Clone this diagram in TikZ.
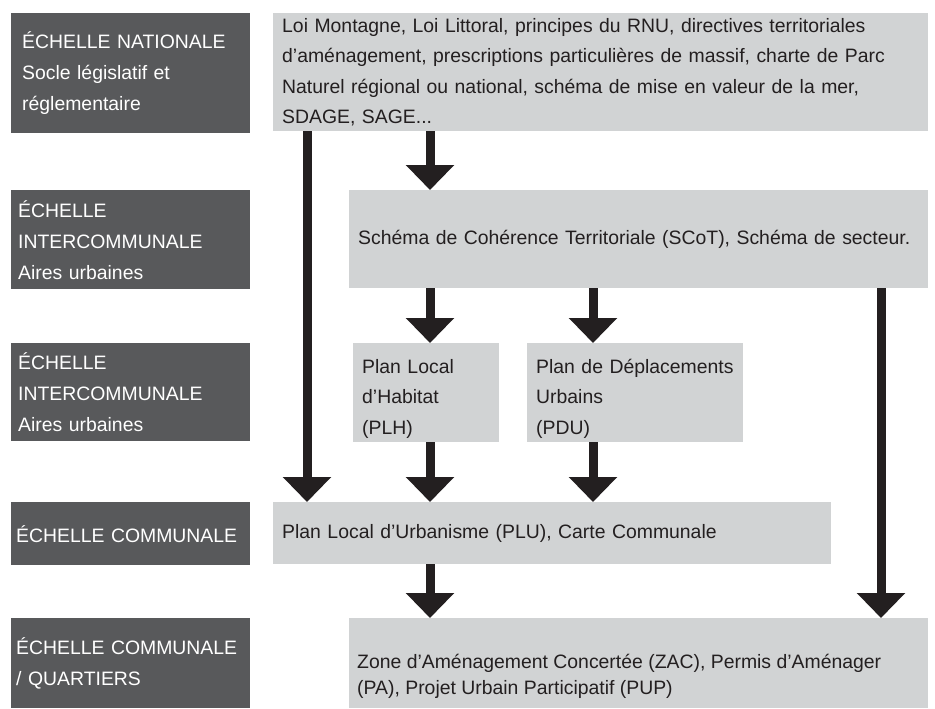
\documentclass[tikz,border=0pt]{standalone}
\usepackage{fontspec}
\setmainfont{Liberation Sans}
\usetikzlibrary{arrows.meta}
\definecolor{Tier}{HTML}{58595B}
\definecolor{Doc}{HTML}{D1D3D4}
\definecolor{Ink}{HTML}{231F20}
\tikzset{
  tier/.style={anchor=north west,fill=Tier,text=white,inner xsep=7pt,inner ysep=0pt,text width=225pt,align=left,font=\fontsize{19.4}{31}\selectfont},
  docbox/.style={anchor=north west,fill=Doc,text=Ink,inner xsep=9pt,inner ysep=0pt,align=left,font=\fontsize{19.4}{30.5}\selectfont},
  doctext/.style={text=Ink,inner sep=0pt,align=left,font=\fontsize{19.4}{26}\selectfont},
  flowarrow/.style={-{Triangle[width=47pt,length=25pt]},line width=9pt,draw=Ink}
}
\begin{document}
\begin{tikzpicture}[x=1pt,y=-1pt]
  \useasboundingbox (0,0) rectangle (935,709);
  % scales (left column)
  \node[tier,inner xsep=11pt,text width=217pt,minimum height=120pt] (tnat) at (11,13) {ÉCHELLE NATIONALE\\Socle législatif et\\réglementaire};
  \node[tier,minimum height=99pt] (tinter) at (11,190) {ÉCHELLE\\INTERCOMMUNALE\\Aires urbaines};
  \node[tier,minimum height=98pt] (tinterb) at (11,343) {ÉCHELLE\\INTERCOMMUNALE\\Aires urbaines};
  \node[tier,inner xsep=5pt,text width=229pt,minimum height=63pt] (tcom) at (11,502) {ÉCHELLE COMMUNALE};
  \node[tier,inner xsep=5pt,text width=229pt,minimum height=90pt] (tquart) at (11,618) {ÉCHELLE COMMUNALE\\/ QUARTIERS};
  % documents
  \node[docbox,text width=637pt,minimum height=118pt] (nat) at (273,13) {Loi Montagne, Loi Littoral, principes du RNU, directives territoriales\\d’aménagement, prescriptions particulières de massif, charte de Parc\\Naturel régional ou national, schéma de mise en valeur de la mer,\\SDAGE, SAGE...};
  \node[docbox,text width=561pt,minimum height=98pt] (sct) at (349,190) {Schéma de Cohérence Territoriale (SCoT), Schéma de secteur.};
  \node[docbox,text width=128pt,minimum height=99pt] (plh) at (353,343) {\rule{0pt}{26pt}Plan Local\\d’Habitat\\(PLH)};
  \node[docbox,text width=198pt,minimum height=99pt] (pdu) at (527,343) {\rule{0pt}{26pt}Plan de Déplacements\\Urbains\\(PDU)};
  \node[docbox,text width=540pt,minimum height=62pt] (plu) at (273,502) {Plan Local d’Urbanisme (PLU), Carte Communale};
  \node[docbox,minimum width=579pt,minimum height=90pt] (zac) at (349,618) {};
  \node[doctext,anchor=west] (zactxt) at (357,676) {Zone d’Aménagement Concertée (ZAC), Permis d’Aménager\\(PA), Projet Urbain Participatif (PUP)};
  % arrow columns
  \coordinate (xa) at (307,0);
  \coordinate (xb) at (430,0);
  \coordinate (xc) at (593,0);
  \coordinate (xd) at (881,0);
  \draw[flowarrow] (nat.south -| xa) -- (plu.north -| xa);
  \draw[flowarrow] (nat.south -| xb) -- (sct.north -| xb);
  \draw[flowarrow] (sct.south -| xb) -- (plh.north -| xb);
  \draw[flowarrow] (sct.south -| xc) -- (pdu.north -| xc);
  \draw[flowarrow] (sct.south -| xd) -- (zac.north -| xd);
  \draw[flowarrow] (plh.south -| xb) -- (plu.north -| xb);
  \draw[flowarrow] (pdu.south -| xc) -- (plu.north -| xc);
  \draw[flowarrow] (plu.south -| xb) -- (zac.north -| xb);
\end{tikzpicture}
\end{document}
